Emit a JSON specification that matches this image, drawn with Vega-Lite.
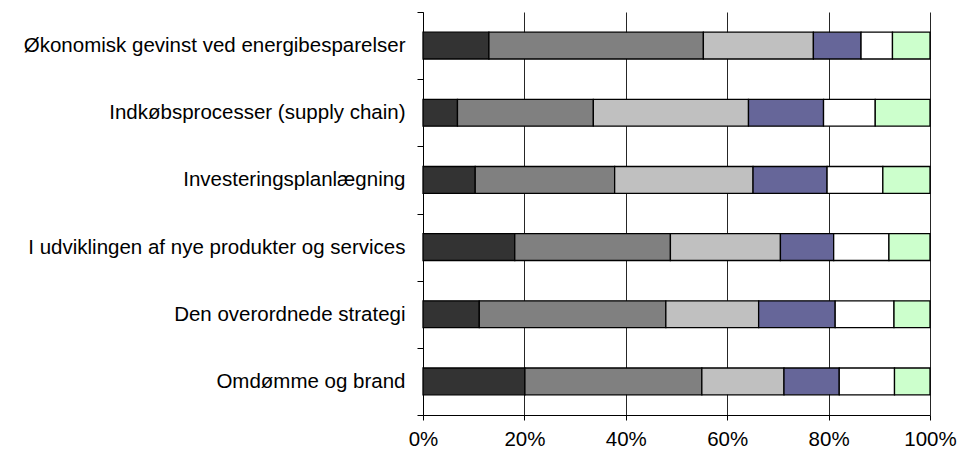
{
  "$schema": "https://vega.github.io/schema/vega-lite/v6.json",
  "width": 507,
  "height": 403,
  "autosize": {"type": "none"},
  "padding": {"left": 423, "top": 12, "right": 29, "bottom": 37},
  "background": "white",
  "config": {
    "view": {"stroke": null},
    "font": "Liberation Sans"
  },
  "data": {
    "values": [
      {"cat": "Økonomisk gevinst ved energibesparelser", "seg": "A", "o": 1, "v": 13.0},
      {"cat": "Økonomisk gevinst ved energibesparelser", "seg": "B", "o": 2, "v": 42.3},
      {"cat": "Økonomisk gevinst ved energibesparelser", "seg": "C", "o": 3, "v": 21.7},
      {"cat": "Økonomisk gevinst ved energibesparelser", "seg": "D", "o": 4, "v": 9.4},
      {"cat": "Økonomisk gevinst ved energibesparelser", "seg": "E", "o": 5, "v": 6.2},
      {"cat": "Økonomisk gevinst ved energibesparelser", "seg": "F", "o": 6, "v": 7.4},
      {"cat": "Indkøbsprocesser (supply chain)", "seg": "A", "o": 1, "v": 6.8},
      {"cat": "Indkøbsprocesser (supply chain)", "seg": "B", "o": 2, "v": 26.8},
      {"cat": "Indkøbsprocesser (supply chain)", "seg": "C", "o": 3, "v": 30.6},
      {"cat": "Indkøbsprocesser (supply chain)", "seg": "D", "o": 4, "v": 14.8},
      {"cat": "Indkøbsprocesser (supply chain)", "seg": "E", "o": 5, "v": 10.2},
      {"cat": "Indkøbsprocesser (supply chain)", "seg": "F", "o": 6, "v": 10.8},
      {"cat": "Investeringsplanlægning", "seg": "A", "o": 1, "v": 10.3},
      {"cat": "Investeringsplanlægning", "seg": "B", "o": 2, "v": 27.5},
      {"cat": "Investeringsplanlægning", "seg": "C", "o": 3, "v": 27.3},
      {"cat": "Investeringsplanlægning", "seg": "D", "o": 4, "v": 14.6},
      {"cat": "Investeringsplanlægning", "seg": "E", "o": 5, "v": 11.0},
      {"cat": "Investeringsplanlægning", "seg": "F", "o": 6, "v": 9.3},
      {"cat": "I udviklingen af nye produkter og services", "seg": "A", "o": 1, "v": 18.1},
      {"cat": "I udviklingen af nye produkter og services", "seg": "B", "o": 2, "v": 30.7},
      {"cat": "I udviklingen af nye produkter og services", "seg": "C", "o": 3, "v": 21.7},
      {"cat": "I udviklingen af nye produkter og services", "seg": "D", "o": 4, "v": 10.5},
      {"cat": "I udviklingen af nye produkter og services", "seg": "E", "o": 5, "v": 10.9},
      {"cat": "I udviklingen af nye produkter og services", "seg": "F", "o": 6, "v": 8.1},
      {"cat": "Den overordnede strategi", "seg": "A", "o": 1, "v": 11.1},
      {"cat": "Den overordnede strategi", "seg": "B", "o": 2, "v": 36.8},
      {"cat": "Den overordnede strategi", "seg": "C", "o": 3, "v": 18.3},
      {"cat": "Den overordnede strategi", "seg": "D", "o": 4, "v": 15.1},
      {"cat": "Den overordnede strategi", "seg": "E", "o": 5, "v": 11.6},
      {"cat": "Den overordnede strategi", "seg": "F", "o": 6, "v": 7.1},
      {"cat": "Omdømme og brand", "seg": "A", "o": 1, "v": 20.1},
      {"cat": "Omdømme og brand", "seg": "B", "o": 2, "v": 34.9},
      {"cat": "Omdømme og brand", "seg": "C", "o": 3, "v": 16.2},
      {"cat": "Omdømme og brand", "seg": "D", "o": 4, "v": 10.9},
      {"cat": "Omdømme og brand", "seg": "E", "o": 5, "v": 10.9},
      {"cat": "Omdømme og brand", "seg": "F", "o": 6, "v": 7.0}
    ]
  },
  "mark": {"type": "bar", "stroke": "#000000", "strokeWidth": 1.3, "height": {"band": 0.4}},
  "encoding": {
    "y": {
      "field": "cat", "type": "nominal", "sort": null,
      "scale": {"paddingInner": 0, "paddingOuter": 0},
      "axis": {
        "title": null, "tickBand": "extent", "tickSize": 6, "tickColor": "#000", "domainColor": "#000",
        "labelFontSize": 20.5, "labelColor": "#000", "labelPadding": 12, "labelLimit": 0, "grid": false
      }
    },
    "x": {
      "field": "v", "type": "quantitative", "stack": "normalize",
      "scale": {"domain": [0, 1], "nice": false},
      "axis": {
        "title": null, "values": [0, 0.2, 0.4, 0.6, 0.8, 1], "format": ".0%",
        "grid": true, "gridColor": "#000", "gridOpacity": 0.85, "tickSize": 5, "tickColor": "#000", "domainColor": "#000",
        "labelFontSize": 20.5, "labelColor": "#000", "labelPadding": 9, "labelFlush": false
      }
    },
    "color": {
      "field": "seg", "type": "nominal", "legend": null,
      "scale": {"domain": ["A", "B", "C", "D", "E", "F"], "range": ["#333333", "#808080", "#c0c0c0", "#666699", "#ffffff", "#ccffcc"]}
    },
    "order": {"field": "o", "type": "quantitative"}
  }
}
